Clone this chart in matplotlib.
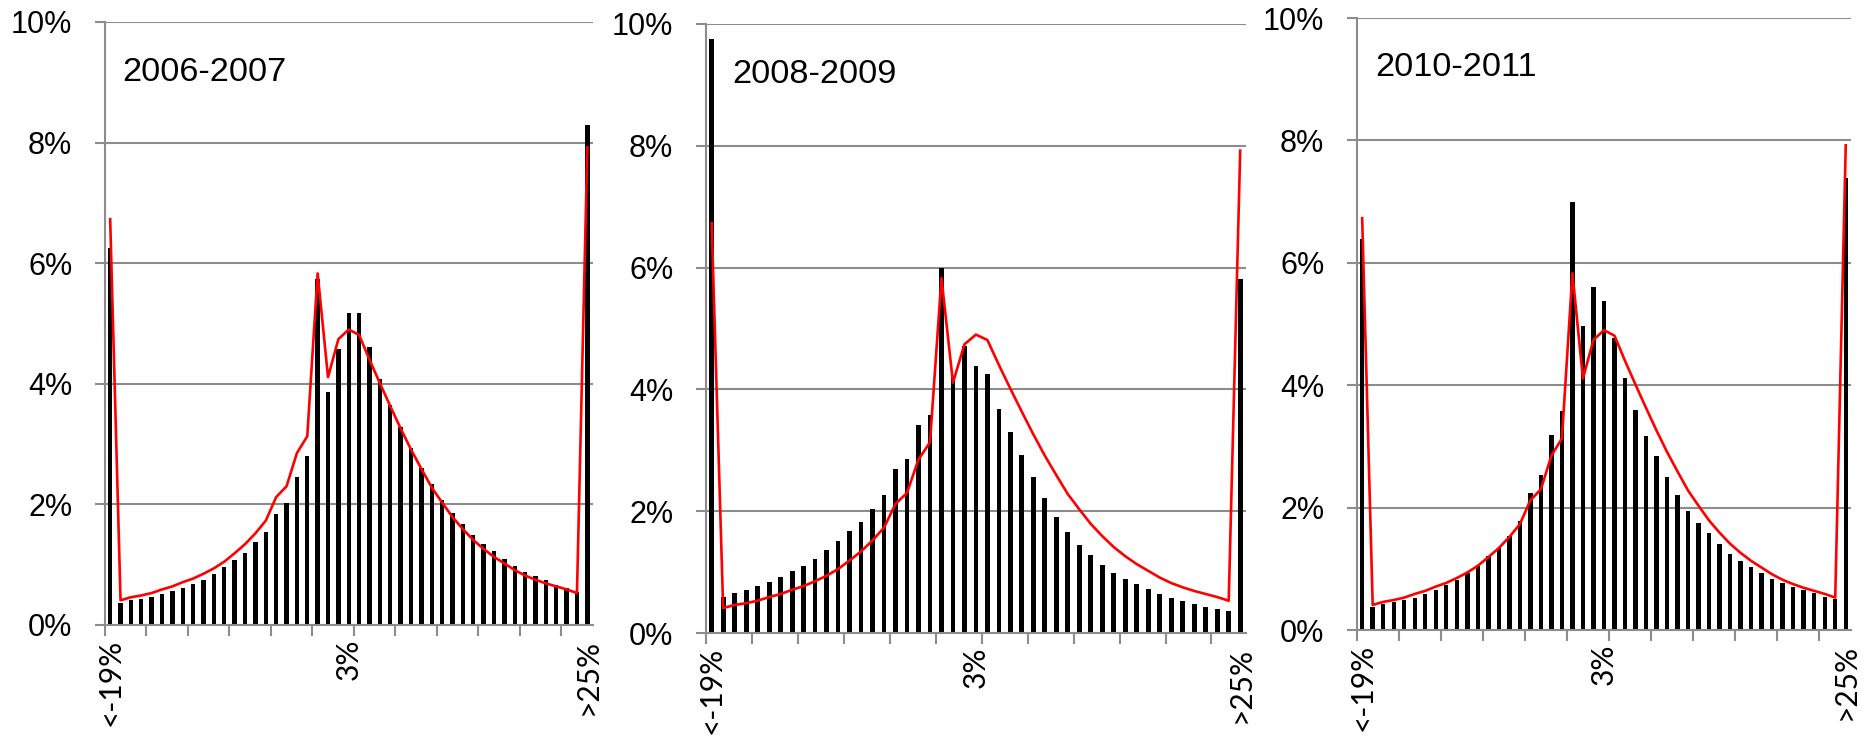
import matplotlib
matplotlib.use("Agg")
import matplotlib.pyplot as plt
from matplotlib.ticker import FixedLocator, PercentFormatter

plt.rcParams["font.family"] = "Liberation Sans"

# wage-change bins: open-ended tails plus 1-point bins from -19% to 25%
categories = ["<-19%"] + [f"{v}%" for v in range(-19, 26)] + [">25%"]

# share of workers in each bin (%)
bars_2006 = [6.25, 0.36, 0.41, 0.43, 0.46, 0.51, 0.56, 0.62, 0.68, 0.75,
             0.84, 0.96, 1.08, 1.19, 1.37, 1.54, 1.84, 2.03, 2.45, 2.81,
             5.73, 3.87, 4.57, 5.18, 5.18, 4.61, 4.08, 3.65, 3.28, 2.93,
             2.61, 2.33, 2.07, 1.86, 1.67, 1.49, 1.34, 1.22, 1.10, 0.98,
             0.88, 0.81, 0.75, 0.67, 0.61, 0.55, 8.29]
bars_2008 = [9.75, 0.59, 0.66, 0.71, 0.77, 0.84, 0.92, 1.01, 1.10, 1.22,
             1.37, 1.51, 1.67, 1.82, 2.03, 2.27, 2.69, 2.85, 3.42, 3.58,
             6.00, 4.20, 4.72, 4.39, 4.25, 3.67, 3.30, 2.92, 2.56, 2.21,
             1.90, 1.66, 1.45, 1.28, 1.12, 0.99, 0.89, 0.80, 0.72, 0.64,
             0.57, 0.53, 0.48, 0.43, 0.40, 0.36, 5.81]
bars_2010 = [6.39, 0.38, 0.43, 0.46, 0.49, 0.53, 0.59, 0.66, 0.73, 0.82,
             0.93, 1.06, 1.21, 1.34, 1.54, 1.78, 2.24, 2.53, 3.18, 3.58,
             6.99, 4.96, 5.60, 5.37, 4.77, 4.11, 3.60, 3.17, 2.84, 2.50,
             2.20, 1.95, 1.75, 1.58, 1.40, 1.25, 1.13, 1.03, 0.94, 0.84,
             0.77, 0.70, 0.65, 0.60, 0.54, 0.50, 7.38]

# fitted distribution, same in every panel
fit = [6.73, 0.41, 0.46, 0.49, 0.53, 0.59, 0.64, 0.71, 0.77, 0.85,
       0.94, 1.05, 1.19, 1.34, 1.52, 1.73, 2.12, 2.30, 2.85, 3.13,
       5.83, 4.11, 4.74, 4.90, 4.81, 4.40, 4.01, 3.63, 3.26, 2.91,
       2.59, 2.28, 2.03, 1.79, 1.59, 1.41, 1.26, 1.13, 1.02, 0.91,
       0.82, 0.75, 0.69, 0.64, 0.59, 0.53, 7.92]

labelled = [0, 23, 46]
GREY = "#8c8c8c"

panels = [
    ("2006-2007", bars_2006, [0.0562, 0.1577, 0.2610, 0.8127], (0.035, 0.902)),
    ("2008-2009", bars_2008, [0.3779, 0.1469, 0.2891, 0.8208], (0.048, 0.903)),
    ("2010-2011", bars_2010, [0.7264, 0.1509, 0.2645, 0.8248], (0.037, 0.905)),
]

fig = plt.figure(figsize=(18.68, 7.42), dpi=100)

for title, vals, rect, (tx, ty) in panels:
    ax = fig.add_axes(rect)
    x = range(len(categories))
    ax.bar(x, vals, width=0.42, color="black", zorder=2)
    ax.plot(x, fit, color="red", lw=1.9, zorder=3)

    ax.set_xlim(-0.5, len(categories) - 0.5)
    ax.set_ylim(0, 10)
    ax.set_yticks([0, 2, 4, 6, 8, 10])
    ax.yaxis.set_major_formatter(PercentFormatter(xmax=100, decimals=0))
    ax.grid(axis="y", color=GREY, lw=1.5)
    ax.set_axisbelow(True)

    for side in ("top", "right"):
        ax.spines[side].set_visible(False)
    for side in ("left", "bottom"):
        ax.spines[side].set_color(GREY)
        ax.spines[side].set_linewidth(1.5)

    ax.set_xticks(labelled, [categories[i] for i in labelled],
                  rotation=90, fontfamily="Lato", fontsize=21.5)
    ax.tick_params(axis="x", which="major", length=0, pad=10)
    ax.xaxis.set_minor_locator(FixedLocator([-0.5 + 4 * k for k in range(12)]))
    ax.tick_params(axis="x", which="minor", length=8, width=1.5, color=GREY)
    ax.tick_params(axis="y", length=7.5, width=1.5, color=GREY, pad=16,
                   labelsize=22)

    ax.text(tx, ty, title, transform=ax.transAxes, fontsize=24.7,
            va="baseline")

fig.savefig("out.png", dpi=100)
plt.close(fig)
